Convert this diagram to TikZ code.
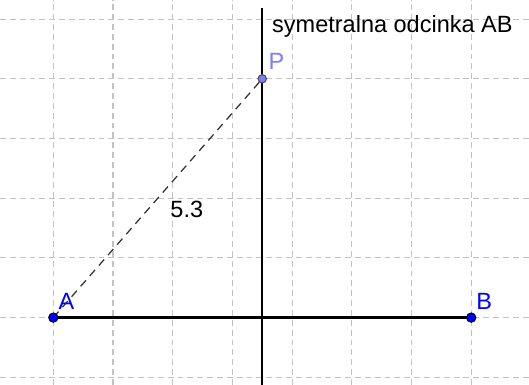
\documentclass[tikz,border=0pt]{standalone}
\usepackage{fontspec}
\setmainfont{Liberation Sans}
\usepackage{tikz}
\usetikzlibrary{positioning}
\definecolor{ggbblue}{RGB}{0, 0, 255}
\definecolor{ggblight}{RGB}{125, 125, 255}
\definecolor{gridgray}{RGB}{195, 195, 195}
\definecolor{segdark}{RGB}{50, 50, 50}

\begin{document}
\begin{tikzpicture}[font=\fontsize{11.2}{13}\selectfont,
    gridline/.style={gridgray, line width=0.5pt, dash pattern=on 2.8pt off 1.9pt},
    ptdot/.style={circle, draw=black, line width=0.5pt, fill=ggbblue,
                  inner sep=0pt, minimum size=4.4pt},
    ptlight/.style={circle, draw=black!70, line width=0.5pt, fill=ggblight,
                    inner sep=0pt, minimum size=4pt},
    ptlabel/.style={anchor=base west, inner sep=0pt}]
        \useasboundingbox[fill=white] (-0.893,-1.127) rectangle (7.968,5.32);
        % Grid
        \draw[gridline] (-0.893,-1.127) grid (7.968,5.32);
        % Points
        \coordinate (A) at (0,0);
        \coordinate (B) at (7,0);
        \coordinate (P) at (3.5,4);
        \coordinate (bot) at (3.5,-1.2);
        \coordinate (top) at (3.5,5.19);
        % Bisector and segments
        \draw[line width=0.85pt] (bot) -- (top);
        \draw[line width=1.4pt] (A) -- (B);
        \draw[segdark, line width=0.6pt, dash pattern=on 3.8pt off 2.8pt] (A) -- (P);
        % Dots
        \node[ptdot] (dotA) at (A) {};
        \node[ptdot] (dotB) at (B) {};
        \node[ptlight] (dotP) at (P) {};
        % Labels
        \node[ptlabel, text=ggbblue] (labA) at (0.08,0.13) {A};
        \node[ptlabel, text=ggbblue] (labB) at (7.08,0.13) {B};
        \node[ptlabel, text=ggblight] (labP) at (3.6,4.15) {P};
        \node[ptlabel] (len) at (1.955,1.68) {5.3};
        \node[ptlabel] (title) at (3.66,4.77) {symetralna odcinka AB};
      \end{tikzpicture}
\end{document}
